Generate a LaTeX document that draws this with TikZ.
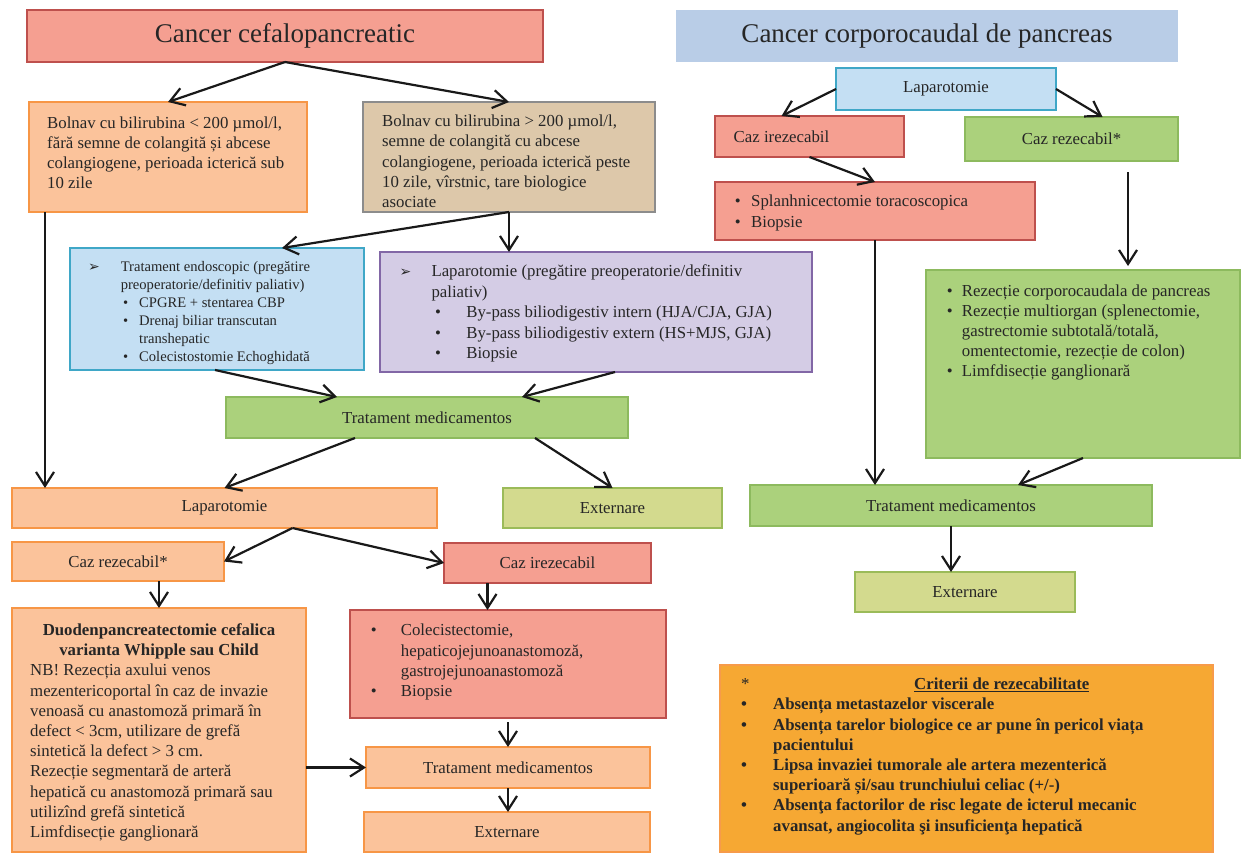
\documentclass[tikz,border=0pt]{standalone}
\usepackage{fontspec}
\setmainfont{Liberation Serif}
\newfontfamily\dingfont{DejaVu Sans}
\usetikzlibrary{arrows.meta}

\definecolor{salmonF}{HTML}{F59F91}
\definecolor{salmonD}{HTML}{BE504D}
\definecolor{peachF}{HTML}{FBC39B}
\definecolor{peachD}{HTML}{F79646}
\definecolor{tanF}{HTML}{DDC8AA}
\definecolor{tanD}{HTML}{8C8C8C}
\definecolor{skyF}{HTML}{C4DFF3}
\definecolor{skyD}{HTML}{3FA7C7}
\definecolor{lilacF}{HTML}{D4CCE5}
\definecolor{lilacD}{HTML}{8267A6}
\definecolor{leafF}{HTML}{ABD17C}
\definecolor{leafD}{HTML}{8DBA5E}
\definecolor{oliveF}{HTML}{D3DA8E}
\definecolor{oliveD}{HTML}{9BBB59}
\definecolor{titleblue}{HTML}{B9CDE7}
\definecolor{amberF}{HTML}{F6A833}
\definecolor{amberD}{HTML}{F79B4A}
\definecolor{ink}{HTML}{262626}

\newcommand\bodyfont{\fontsize{16.8}{20.2}\selectfont}
\newcommand\smallbody{\fontsize{14.6}{17.9}\selectfont}
\newcommand\headfont{\fontsize{27}{32}\selectfont}
\newcommand\itemmark[1]{\makebox[#1][l]{•}}
\newcommand\arrowmark[1]{\makebox[#1][l]{\dingfont\fontsize{14}{14}\selectfont ➢}}

\begin{document}
% multi-line text nodes are placed by the baseline of their last line
\begin{tikzpicture}[x=1pt,y=-1pt,
  panel/.style={draw, line width=1.3pt, inner sep=0pt, outer sep=0pt,
                anchor=north west, text=ink, font=\bodyfont},
  txt/.style={inner sep=0pt, anchor=base west, align=left, text=ink, font=\bodyfont},
  arr/.style={draw=black!90, line width=2.2pt, -{Straight Barb[length=14pt,width=18pt]}},
]
\useasboundingbox (0,0) rectangle (1241,854);
\fill[white] (0,0) rectangle (1241,854);

% ---------- left branch: head of pancreas ----------
\node[panel, fill=salmonF, draw=salmonD, minimum width=516, minimum height=52, font=\headfont]
  (cefal) at (27,10) {Cancer cefalopancreatic};

\node[panel, fill=peachF, draw=peachD, minimum width=278, minimum height=110] (bil1) at (29,102) {};
\node[txt] (bil1t) at (47,188.6) {Bolnav cu bilirubina < 200 µmol/l,\\
fără semne de colangită și abcese\\
colangiogene, perioada icterică sub\\
10 zile};

\node[panel, fill=tanF, draw=tanD, minimum width=292, minimum height=110] (bil2) at (363,102) {};
\node[txt] (bil2t) at (382,207.5) {Bolnav cu bilirubina > 200 µmol/l,\\
semne de colangită cu abcese\\
colangiogene, perioada icterică peste\\
10 zile, vîrstnic, tare biologice\\
asociate};

\node[panel, fill=skyF, draw=skyD, minimum width=294, minimum height=122] (endo) at (70,248) {};
\node[txt, font=\smallbody] (endot) at (88,361) {%
\arrowmark{32.6pt}Tratament endoscopic (pregătire\\
\hspace*{32.6pt}preoperatorie/definitiv paliativ)\\
\hspace*{35pt}\itemmark{16pt}CPGRE + stentarea CBP\\
\hspace*{35pt}\itemmark{16pt}Drenaj biliar transcutan\\
\hspace*{51pt}transhepatic\\
\hspace*{35pt}\itemmark{16pt}Colecistostomie Echoghidată};

\node[panel, fill=lilacF, draw=lilacD, minimum width=432, minimum height=120] (lilac) at (380,252) {};
\node[txt, font=\fontsize{16.8}{20.4}\selectfont] (lilact) at (399.5,358.5) {%
\arrowmark{31.8pt}Laparotomie (pregătire preoperatorie/definitiv\\
\hspace*{31.8pt}paliativ)\\
\hspace*{35.3pt}\itemmark{31.3pt}By-pass biliodigestiv intern (HJA/CJA, GJA)\\
\hspace*{35.3pt}\itemmark{31.3pt}By-pass biliodigestiv extern (HS+MJS, GJA)\\
\hspace*{35.3pt}\itemmark{31.3pt}Biopsie};

\node[panel, fill=leafF, draw=leafD, minimum width=402, minimum height=41] (trat1) at (226,397) {Tratament medicamentos};

\node[panel, fill=peachF, draw=peachD, minimum width=425, minimum height=40] (lap1) at (12,488) {Laparotomie};
\node[panel, fill=oliveF, draw=oliveD, minimum width=219, minimum height=40] (ext1) at (503,488) {Externare};

\node[panel, fill=peachF, draw=peachD, minimum width=212, minimum height=39] (cazR1) at (12,542) {Caz rezecabil*};
\node[panel, fill=salmonF, draw=salmonD, minimum width=207, minimum height=40] (cazI1) at (444,543) {Caz irezecabil};

\node[panel, fill=peachF, draw=peachD, minimum width=294, minimum height=244] (whip) at (12,608) {};
\node[txt, anchor=base, align=center, font=\bodyfont\bfseries] (whiphead) at (159,655.5)
  {Duodenpancreatectomie cefalica\\ varianta Whipple sau Child};
\node[txt] (whipbody) at (30,837.5) {NB! Rezecția axului venos\\
mezentericoportal în caz de invazie\\
venoasă cu anastomoză primară în\\
defect < 3cm, utilizare de grefă\\
sintetică la defect > 3 cm.\\
Rezecție segmentară de arteră\\
hepatică cu anastomoză primară sau\\
utilizînd grefă sintetică\\
Limfdisecție ganglionară};

\node[panel, fill=salmonF, draw=salmonD, minimum width=316, minimum height=108] (irez) at (350,610) {};
\node[txt] (irezt) at (370.7,696.5) {%
\itemmark{30pt}Colecistectomie,\\
\hspace*{30pt}hepaticojejunoanastomoză,\\
\hspace*{30pt}gastrojejunoanastomoză\\
\itemmark{30pt}Biopsie};

\node[panel, fill=peachF, draw=peachD, minimum width=284, minimum height=41] (trat3) at (366,747) {Tratament medicamentos};
\node[panel, fill=peachF, draw=peachD, minimum width=286, minimum height=40] (ext3) at (364,812) {Externare};

% ---------- right branch: body and tail ----------
\node[panel, fill=titleblue, draw=none, minimum width=502, minimum height=52, font=\headfont]
  (corpo) at (676,10) {Cancer corporocaudal de pancreas};

\node[panel, fill=skyF, draw=skyD, minimum width=220, minimum height=42] (lap2) at (836,68) {Laparotomie};
\node[panel, fill=salmonF, draw=salmonD, minimum width=189, minimum height=41] (cazI2) at (715,116) {};
\node[txt, anchor=west] (cazI2t) at (733.5,136.5) {Caz irezecabil};
\node[panel, fill=leafF, draw=leafD, minimum width=213, minimum height=44] (cazR2) at (965,117) {Caz rezecabil*};

\node[panel, fill=salmonF, draw=salmonD, minimum width=320, minimum height=58] (splanh) at (715,182) {};
\node[txt, font=\fontsize{16.8}{20.5}\selectfont] (splanht) at (734.6,227) {%
\itemmark{16.4pt}Splanhnicectomie toracoscopica\\
\itemmark{16.4pt}Biopsie};

\node[panel, fill=leafF, draw=leafD, minimum width=314, minimum height=188] (rez) at (926,270) {};
\node[txt] (rezt) at (946.7,376.8) {%
\itemmark{15pt}Rezecție corporocaudala de pancreas\\
\itemmark{15pt}Rezecție multiorgan (splenectomie,\\
\hspace*{15pt}gastrectomie subtotală/totală,\\
\hspace*{15pt}omentectomie, rezecție de colon)\\
\itemmark{15pt}Limfdisecție ganglionară};

\node[panel, fill=leafF, draw=leafD, minimum width=402, minimum height=41] (trat2) at (750,485) {Tratament medicamentos};
\node[panel, fill=oliveF, draw=oliveD, minimum width=220, minimum height=40] (ext2) at (855,572) {Externare};

\node[panel, fill=amberF, draw=amberD, minimum width=493, minimum height=187] (crit) at (720,665) {};
\node[txt, font=\bodyfont\bfseries] (critt) at (741,831) {%
\makebox[32pt][l]{\mdseries *}\hspace{141pt}\underline{Criterii de rezecabilitate}\\
\itemmark{32pt}Absența metastazelor viscerale\\
\itemmark{32pt}Absența tarelor biologice ce ar pune în pericol viața\\
\hspace*{32pt}pacientului\\
\itemmark{32pt}Lipsa invaziei tumorale ale artera mezenterică\\
\hspace*{32pt}superioară și/sau trunchiului celiac (+/-)\\
\itemmark{32pt}Absenţa factorilor de risc legate de icterul mecanic\\
\hspace*{32pt}avansat, angiocolita şi insuficienţa hepatică};

% ---------- connectors, left ----------
\draw[arr] (cefal.south) -- (bil1.north);
\draw[arr] (cefal.south) -- (bil2.north);
\draw[arr] (bil2.south) -- ([xshift=65pt]endo.north);
\draw[arr] (bil2.south) -- (bil2.south |- lilac.north);
\draw[arr] ([xshift=-2pt]endo.south) -- ([xshift=-90pt]trat1.north);
\draw[arr] ([xshift=19pt]lilac.south) -- ([xshift=95pt]trat1.north);
\coordinate (b1drop) at ([xshift=16pt]bil1.south west);
\draw[arr] (b1drop) -- (b1drop |- lap1.north);
\draw[arr] ([xshift=-72pt]trat1.south) -- (lap1.north);
\draw[arr] ([xshift=108pt]trat1.south) -- (ext1.north);
\draw[arr] ([xshift=68pt]lap1.south) -- (cazR1.east);
\draw[arr] ([xshift=68pt]lap1.south) -- (cazI1.west);
\draw[arr] (whip.north |- cazR1.south) -- (whip.north);
\coordinate (ci1) at ([xshift=-60pt]cazI1.south);
\draw[arr] (ci1) -- (ci1 |- irez.north);
\draw[arr, shorten <=4pt] (irez.south) -- (trat3.north);
\draw[arr] (whip.east |- trat3.west) -- (trat3.west);
\draw[arr] (trat3.south) -- (trat3.south |- ext3.north);

% ---------- connectors, right ----------
\draw[arr] (lap2.west) -- ([xshift=-28pt]cazI2.north);
\draw[arr] (lap2.east) -- ([xshift=31pt]cazR2.north);
\draw[arr] (cazI2.south) -- (splanh.north);
\coordinate (cr2) at ([xshift=56.5pt,yshift=-11pt]cazR2.south);
\draw[arr, shorten >=4pt] (cr2) -- (cr2 |- rez.north);
\draw[arr] (splanh.south) -- (splanh.south |- trat2.north);
\draw[arr] (rez.south) -- ([xshift=67pt]trat2.north);
\draw[arr] (trat2.south) -- (trat2.south |- ext2.north);
\end{tikzpicture}
\end{document}
